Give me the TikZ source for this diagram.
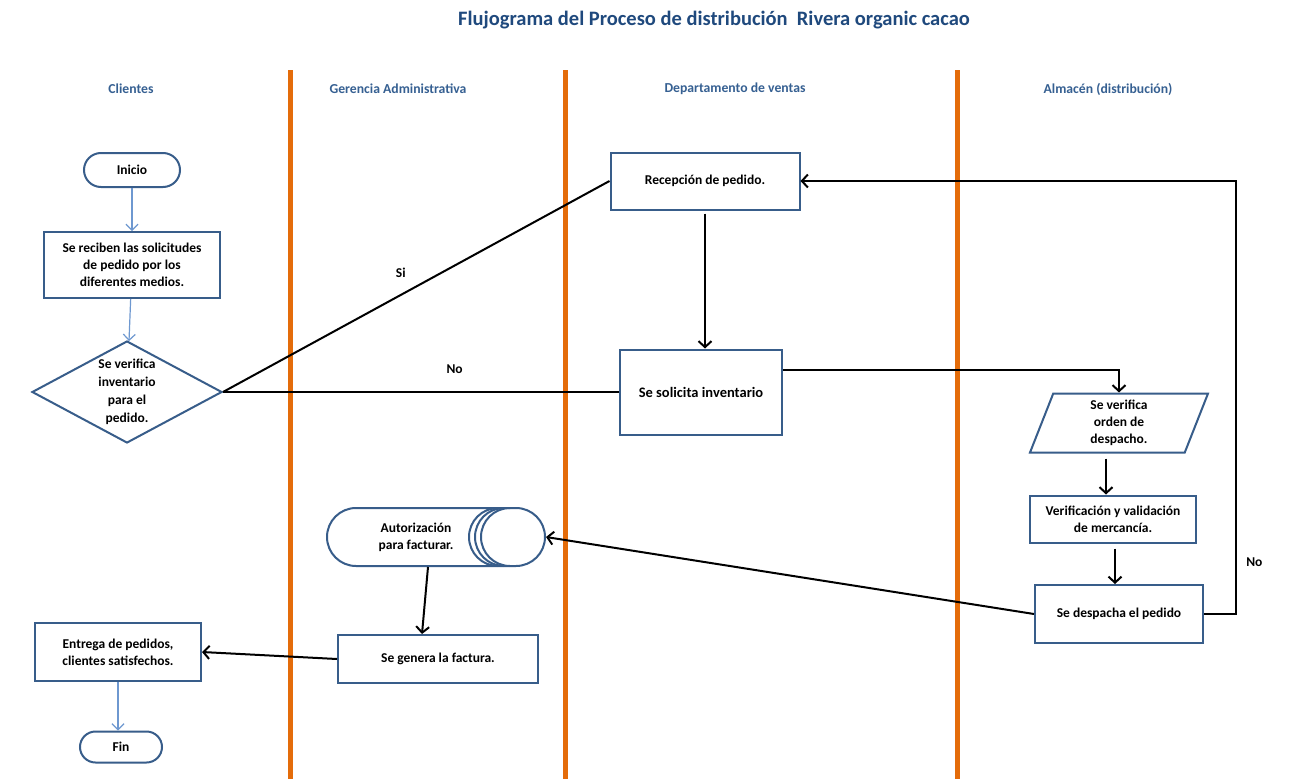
\documentclass[tikz,border=0pt]{standalone}
\usepackage{fontspec}
\setmainfont{Carlito}
\usepackage{tikz}
\usetikzlibrary{arrows.meta}
\usetikzlibrary{shapes.geometric}
\usetikzlibrary{shapes.misc}
\usetikzlibrary{positioning}
\definecolor{mblue}{RGB}{56, 93, 138}
\definecolor{mlight}{RGB}{110, 152, 208}
\definecolor{mtitle}{RGB}{31, 73, 125}
\definecolor{mhead}{RGB}{54, 96, 146}
\definecolor{morange}{RGB}{228, 108, 10}
\tikzset{caja/.style = {draw=mblue, line width=2pt, fill=white, align=center,
                        font=\fontsize{13.5}{17}\selectfont\bfseries}}
\tikzset{terminal/.style = {caja, rounded rectangle, inner sep=0pt}}
\tikzset{decision/.style = {caja, diamond, aspect=1.86, inner sep=0pt,
                            minimum width=190pt, minimum height=102pt,
                            font=\fontsize{13.5}{18}\selectfont\bfseries}}
\tikzset{datos/.style = {caja, trapezium, trapezium left angle=63,
                         trapezium right angle=117, trapezium stretches body,
                         inner sep=0pt}}
\tikzset{flecha/.style = {line width=2pt, -{Straight Barb[length=6pt, width=13pt]}}}
\tikzset{flechaazul/.style = {line width=1.2pt, draw=mlight,
                              -{Straight Barb[length=6pt, width=12pt]}}}
\tikzset{linea/.style = {line width=2pt}}
\tikzset{etiqueta/.style = {font=\fontsize{13.5}{17}\selectfont\bfseries}}
\tikzset{carril/.style = {font=\fontsize{13.7}{16}\selectfont\bfseries, text=mhead}}

\begin{document}
\begin{tikzpicture}[x=1pt, y=-1pt]
    \useasboundingbox [fill=white] (0, 0) rectangle (1293, 779);

    \node [font=\fontsize{20.5}{24}\selectfont\bfseries, text=mtitle] (titulo) at (714, 20)
        {Flujograma del Proceso de distribución \ Rivera organic cacao};

    \foreach \x in {290, 565, 957}
        \draw [morange, line width=5pt] (\x, 70) -- (\x, 779);

    \node [carril] (clientes) at (131, 89) {Clientes};
    \node [carril] (gerencia) at (398, 89) {Gerencia Administrativa};
    \node [carril] (ventas) at (735, 89) {Departamento de ventas};
    \node [carril] (almacen) at (1108, 89) {Almacén (distribución)};

    \node [terminal, minimum width=96pt, minimum height=34pt] (inicio) at (132, 170) {Inicio};
    \node [caja, minimum width=176pt, minimum height=66pt] (recibe) at (132, 265)
        {Se reciben las solicitudes\\de pedido por los\\diferentes medios.};
    \node [decision] (verifica) at (127, 392) {Se verifica\\inventario\\para el\\pedido.};
    \node [caja, minimum width=166pt, minimum height=58pt] (entrega) at (118, 652)
        {Entrega de pedidos,\\clientes satisfechos.};
    \node [terminal, minimum width=82pt, minimum height=31pt] (fin) at (121, 747) {Fin};

    \node [terminal, minimum width=218pt, minimum height=58pt,
           label={[xshift=-20pt, align=center, etiqueta]center:Autorización\\para facturar.}]
        (autoriz) at (436, 537) {};
    \foreach \d in {6, 12, 18}
        \draw [mblue, line width=2pt] (516-\d, 508) arc [start angle=90, end angle=270, radius=29pt];
    \node [caja, minimum width=200pt, minimum height=48pt] (factura) at (438, 659) {Se genera la factura.};

    \node [caja, minimum width=189pt, minimum height=57pt] (recepcion) at (705, 181) {Recepción de pedido.};
    \node [caja, minimum width=162pt, minimum height=85pt, font=\fontsize{14.5}{17}\selectfont\bfseries]
        (solicita) at (701, 392) {Se solicita inventario};

    \node [datos, minimum width=178pt, minimum height=59pt] (orden) at (1119, 423)
        {Se verifica\\orden de\\despacho.};
    \node [caja, minimum width=166pt, minimum height=47pt] (verificacion) at (1113, 519)
        {Verificación y validación\\de mercancía.};
    \node [caja, minimum width=168pt, minimum height=58pt] (despacha) at (1119, 614) {Se despacha el pedido};

    % conectores
    \draw [flechaazul] (inicio) -- (recibe);
    \draw [flechaazul] (recibe) -- (verifica);
    \draw [flechaazul] (entrega.south) -- (entrega.south |- fin.north);

    \draw [linea] (verifica.east) -- (recepcion.west) node [pos=0.46, above=13pt, etiqueta] {Si};
    \draw [linea] (verifica.east) -- (solicita.west) node [pos=0.585, above=14pt, etiqueta] {No};
    \draw [flecha, shorten <=3pt] (recepcion.south) -- (recepcion.south |- solicita.north);
    \draw [flecha] ([yshift=22pt]solicita.east) -| (orden.north);
    \draw [flecha, shorten <=5pt] ([xshift=-13pt]orden.south) -- ([xshift=-13pt]orden.south |- verificacion.north);
    \draw [flecha, shorten <=5pt] ([xshift=2pt]verificacion.south) -- ([xshift=2pt]verificacion.south |- despacha.north);
    \draw [flecha] (despacha.west) -- (autoriz.east);
    \draw [flecha] (despacha.east) -- ++(32, 0) |- node [pos=0.06, right=6pt, etiqueta] {No} (recepcion.east);
    \draw [flecha] ([xshift=-8pt]autoriz.south) -- ([xshift=-16pt]factura.north);
    \draw [flecha] (factura.west) -- (entrega.east);
  \end{tikzpicture}
\end{document}
